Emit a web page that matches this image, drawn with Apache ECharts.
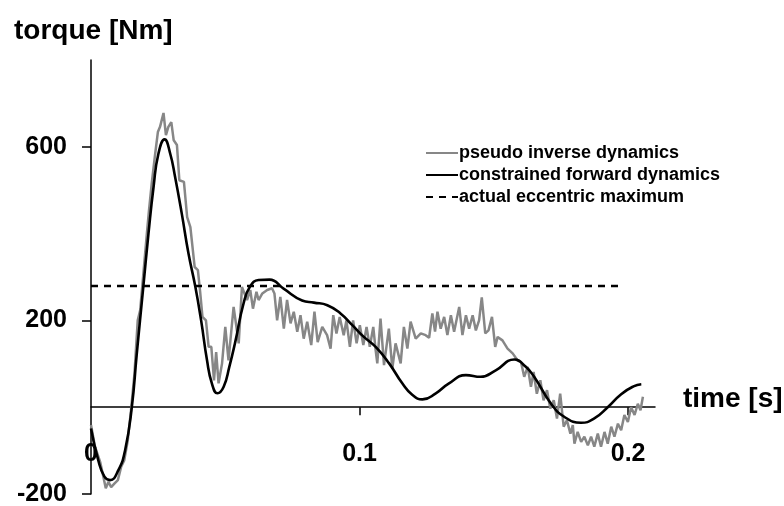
<!DOCTYPE html>
<html>
<head>
<meta charset="utf-8">
<script src="https://cdn.jsdelivr.net/npm/echarts@6/dist/echarts.min.js"></script>
<style>
html,body{margin:0;padding:0;background:#fff;}
#chart{width:784px;height:506px;}
</style>
</head>
<body>
<div id="chart"></div>
<script>
// ---- data ----
const seriesNames = ['pseudo inverse dynamics', 'constrained forward dynamics', 'actual eccentric maximum'];

const grayT = [0.0000,0.0015,0.0034,0.0046,0.0055,0.0065,0.0075,0.0087,0.0100,0.0112,0.0124,0.0137,0.0149,0.0162,0.0174,0.0183,0.0195,0.0208,0.0216,0.0226,0.0239,0.0249,0.0257,0.0270,0.0279,0.0288,0.0299,0.0308,0.0320,0.0329,0.0346,0.0358,0.0370,0.0386,0.0398,0.0407,0.0415,0.0428,0.0438,0.0448,0.0458,0.0466,0.0475,0.0488,0.0500,0.0512,0.0531,0.0550,0.0562,0.0581,0.0593,0.0603,0.0616,0.0624,0.0638,0.0656,0.0674,0.0683,0.0693,0.0705,0.0718,0.0730,0.0743,0.0755,0.0768,0.0780,0.0792,0.0805,0.0820,0.0832,0.0844,0.0861,0.0879,0.0892,0.0902,0.0914,0.0926,0.0941,0.0951,0.0964,0.0976,0.0989,0.1001,0.1014,0.1026,0.1038,0.1051,0.1060,0.1066,0.1078,0.1091,0.1109,0.1122,0.1134,0.1153,0.1165,0.1178,0.1190,0.1209,0.1228,0.1246,0.1259,0.1271,0.1281,0.1290,0.1302,0.1315,0.1327,0.1340,0.1352,0.1371,0.1383,0.1396,0.1408,0.1421,0.1433,0.1445,0.1455,0.1468,0.1480,0.1493,0.1505,0.1514,0.1532,0.1551,0.1570,0.1588,0.1601,0.1613,0.1626,0.1638,0.1648,0.1660,0.1673,0.1685,0.1698,0.1710,0.1723,0.1735,0.1747,0.1760,0.1772,0.1785,0.1794,0.1800,0.1812,0.1825,0.1837,0.1850,0.1862,0.1874,0.1887,0.1899,0.1912,0.1924,0.1937,0.1949,0.1962,0.1974,0.1986,0.1999,0.2011,0.2024,0.2036,0.2046,0.2055];
const grayV = [-41,-91,-126,-160,-187,-172,-184,-176,-168,-138,-122,-76,-7,78,200,223,308,400,454,515,584,634,646,678,627,646,657,615,604,523,519,438,415,323,316,262,208,200,139,139,62,127,55,101,185,108,231,147,277,247,270,227,266,247,262,270,274,262,200,254,181,247,193,220,174,212,158,197,143,220,150,185,166,135,212,170,208,166,200,139,200,147,189,143,185,139,185,131,101,204,97,181,89,147,101,185,135,197,158,170,166,160,216,174,220,181,208,166,212,174,231,166,212,181,212,177,200,253,170,177,208,139,162,154,135,124,108,104,70,93,47,81,31,62,16,39,-3,16,-26,31,-45,-30,-61,-41,-84,-57,-80,-68,-88,-68,-91,-61,-91,-57,-84,-45,-68,-38,-53,-18,-34,0,-18,8,-7,24];

const blackT = [0.0000,0.0027,0.0050,0.0071,0.0102,0.0127,0.0152,0.0170,0.0195,0.0214,0.0233,0.0251,0.0274,0.0295,0.0313,0.0338,0.0363,0.0388,0.0410,0.0432,0.0450,0.0471,0.0494,0.0515,0.0537,0.0568,0.0593,0.0624,0.0665,0.0717,0.0786,0.0830,0.0880,0.0929,0.0973,0.1016,0.1060,0.1110,0.1159,0.1197,0.1234,0.1284,0.1333,0.1396,0.1451,0.1507,0.1576,0.1619,0.1650,0.1713,0.1762,0.1825,0.1874,0.1924,0.1974,0.2020,0.2049];
const blackV = [-49,-122,-160,-168,-145,-99,0,120,279,400,508,584,617,584,531,446,354,279,200,108,55,32,47,93,150,239,279,293,294,273,246,241,235,216,189,162,139,101,55,28,18,32,55,74,70,85,110,93,70,8,-22,-36,-26,0,30,48,53];

const maxT = [0.0000, 0.1980];
const maxV = [279, 279];

const xTickLabels = [0, 0.1, 0.2];
const yTickLabels = [-200, 200, 600];

// ---- build ----
const zip = (a, b) => a.map((t, i) => [t, b[i]]);
const FONT = "'Liberation Sans', Arial, sans-serif";
const GRID_H = 434, Y_MIN = -200, Y_MAX = 800;
const zeroOffset = -GRID_H * (0 - Y_MIN) / (Y_MAX - Y_MIN); // lift x axis to the zero line

const chart = echarts.init(document.getElementById('chart'), null, {renderer: 'canvas'});
chart.setOption({
  animation: false,
  backgroundColor: '#fff',
  grid: {left: 91, top: 60, width: 564, height: GRID_H, containLabel: false, outerBoundsMode: 'none'},
  legend: {
    orient: 'vertical', left: 420, top: 139, itemWidth: 32, itemHeight: 14, itemGap: 4,
    data: seriesNames,
    itemStyle: {opacity: 0},
    textStyle: {fontFamily: FONT, fontWeight: 'bold', fontSize: 18, color: '#000', padding: [0,0,0,-4]}
  },
  xAxis: {
    type: 'value', min: 0, max: 0.21, position: 'bottom', offset: zeroOffset,
    axisLine: {show: true, onZero: false, lineStyle: {color: '#000', width: 1.5}},
    axisTick: {show: true, customValues: [0.1, 0.2], length: 8, lineStyle: {color: '#000', width: 1.5}},
    axisLabel: {customValues: xTickLabels, margin: 34, fontFamily: FONT, fontWeight: 'bold', fontSize: 25, color: '#000',
      formatter: v => v === 0 ? '0' : String(v)},
    splitLine: {show: false}
  },
  yAxis: {
    type: 'value', min: Y_MIN, max: Y_MAX,
    axisLine: {show: true, onZero: false, lineStyle: {color: '#000', width: 1.5}},
    axisTick: {show: true, customValues: yTickLabels, length: 9, lineStyle: {color: '#000', width: 1.5}},
    axisLabel: {customValues: yTickLabels, margin: 24, fontFamily: FONT, fontWeight: 'bold', fontSize: 25, color: '#000'},
    splitLine: {show: false}
  },
  graphic: [
    {type: 'text', left: 14, top: 17, style: {text: 'torque [Nm]', font: "bold 28px 'Liberation Sans', Arial, sans-serif", fill: '#000'}},
    {type: 'text', left: 683, top: 385, style: {text: 'time [s]', font: "bold 28px 'Liberation Sans', Arial, sans-serif", fill: '#000'}}
  ],
  series: [
    {name: seriesNames[0], type: 'line', data: zip(grayT, grayV), symbol: 'none', smooth: false,
      lineStyle: {color: '#878787', width: 2.5}, itemStyle: {color: '#878787'}, z: 2},
    {name: seriesNames[1], type: 'line', data: zip(blackT, blackV), symbol: 'none', smooth: 0.5,
      lineStyle: {color: '#000', width: 2.6}, itemStyle: {color: '#000'}, z: 3},
    {name: seriesNames[2], type: 'line', data: zip(maxT, maxV), symbol: 'none',
      lineStyle: {color: '#000', width: 2.5, type: [7, 6]}, itemStyle: {color: '#000'}, z: 4}
  ]
});
</script>
</body>
</html>
